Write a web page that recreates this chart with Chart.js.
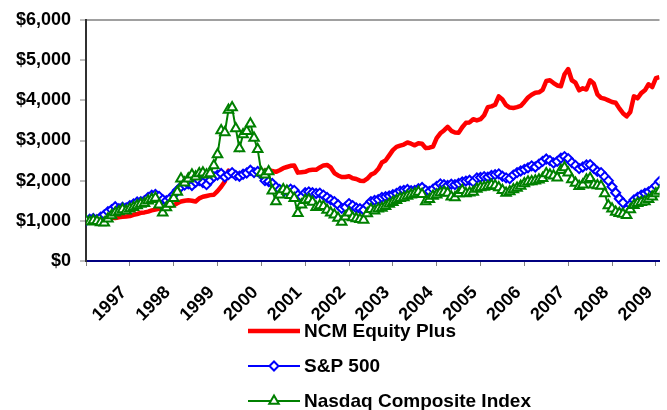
<!DOCTYPE html>
<html>
<head>
<meta charset="utf-8">
<title>NCM Equity Plus x S&amp;P 500 x Nasdaq</title>
<script src="https://cdn.jsdelivr.net/npm/chart.js@4.4.0/dist/chart.umd.min.js"></script>
<style>
    html, body { margin: 0; padding: 0; background: #fff; }
    #grafico { display: block; }
</style>
</head>
<body>
<canvas id="grafico" width="667" height="410"></canvas>
<script>
// === Dados (valor de $1.000 investidos, um ponto por mês) ===
const anos = ['1997', '1998', '1999', '2000', '2001', '2002', '2003',
              '2004', '2005', '2006', '2007', '2008', '2009'];

const ncmEquityPlus = [
    1000, 1010, 990, 1000, 1030, 1050, 1060, 1080, 1070, 1090,
    1100, 1110, 1120, 1150, 1170, 1200, 1210, 1230, 1260, 1280,
    1300, 1320, 1340, 1370, 1390, 1440, 1480, 1500, 1510, 1500,
    1480, 1560, 1600, 1620, 1640, 1650, 1740, 1850, 1980, 2250,
    2200, 2180, 2150, 2140, 2180, 2220, 2200, 2180, 2230, 2250,
    2270, 2240, 2220, 2260, 2310, 2340, 2370, 2380, 2200, 2210,
    2220, 2260, 2270, 2270, 2330, 2380, 2390, 2330, 2190, 2130,
    2090, 2090, 2110, 2060, 2040, 2000, 1990, 2050, 2150, 2190,
    2290, 2450, 2500, 2630, 2760, 2840, 2870, 2900, 2950, 2920,
    2880, 2930, 2920, 2810, 2820, 2850, 3060, 3180, 3250, 3340,
    3240, 3200, 3190, 3330, 3440, 3450, 3530, 3500, 3530, 3630,
    3830, 3850, 3890, 4100, 4020, 3880, 3820, 3810, 3830, 3860,
    3960, 4070, 4140, 4190, 4200, 4260, 4480, 4500, 4430, 4370,
    4350, 4650, 4780, 4500, 4440, 4250, 4300, 4270, 4500, 4420,
    4150, 4060, 4040, 4000, 3960, 3940, 3800, 3680, 3600, 3710,
    4100, 4050, 4180, 4250, 4400, 4330, 4550, 4580
];

const sp500 = [
    1000, 1040, 1060, 1030, 1090, 1150, 1230, 1280, 1350, 1300,
    1340, 1320, 1380, 1420, 1470, 1480, 1500, 1580, 1640, 1660,
    1610, 1530, 1500, 1560, 1650, 1760, 1850, 1890, 1920, 1880,
    1960, 2000, 1950, 1900, 2010, 2100, 2140, 2180, 2090, 2150,
    2200, 2130, 2110, 2160, 2190, 2260, 2200, 2230, 2150, 2000,
    1980, 1930, 1840, 1780, 1720, 1760, 1790, 1760, 1640, 1600,
    1700, 1720, 1700, 1680, 1690, 1640, 1580, 1520, 1480, 1400,
    1310, 1340, 1430, 1380, 1320, 1300, 1270, 1380, 1480, 1510,
    1530, 1580, 1600, 1620, 1650, 1680, 1740, 1760, 1780, 1750,
    1760, 1800, 1830, 1760, 1730, 1790, 1860, 1920, 1900, 1880,
    1910, 1900, 1930, 1970, 1990, 2010, 1970, 2070, 2080, 2100,
    2090, 2130, 2150, 2170, 2110, 2070, 2050, 2140, 2200, 2240,
    2280, 2320, 2370, 2340, 2410, 2480, 2540, 2500, 2440, 2480,
    2560, 2600, 2550, 2450, 2380, 2300, 2340, 2390, 2400, 2310,
    2230, 2200, 2100, 2000, 1850, 1700, 1550, 1450, 1290, 1400,
    1520, 1580, 1640, 1680, 1720, 1780, 1870, 1980
];

const nasdaq = [
    1000, 980, 1010, 990, 960, 950, 1050, 1130, 1200, 1230,
    1280, 1250, 1300, 1340, 1380, 1420, 1440, 1500, 1540, 1570,
    1400, 1200, 1330, 1420, 1560, 1720, 2050, 1950, 2050, 2150,
    2100, 2180, 2200, 2150, 2180, 2380, 2650, 3250, 3200, 3760,
    3820, 3300, 2800, 3150, 3230, 3420, 3060, 2780, 2200, 2150,
    2230, 1750, 1480, 1650, 1780, 1740, 1640, 1560, 1190, 1400,
    1510, 1530, 1470, 1340, 1380, 1360, 1270, 1200, 1150, 1070,
    970, 1100, 1200, 1080, 1060, 1040, 1020, 1180, 1290, 1250,
    1300, 1320, 1360, 1420, 1460, 1510, 1560, 1580, 1620, 1650,
    1680, 1720, 1660, 1480, 1540, 1620, 1650, 1700, 1720, 1690,
    1600, 1580, 1680, 1760, 1680, 1700, 1720, 1790, 1830, 1840,
    1860, 1890, 1880, 1830, 1760, 1690, 1730, 1780, 1820, 1870,
    1930, 1970, 1980, 2000, 2020, 2060, 2180, 2150, 2120, 2070,
    2260, 2330, 2200, 2030, 1940, 1860, 1900, 2020, 2060, 1900,
    1880, 1870, 1680, 1380, 1300, 1220, 1190, 1170, 1140, 1280,
    1390, 1440, 1460, 1480, 1540, 1600, 1680, 1740
];

// === Aparência ===
const fonte = "'Liberation Sans', Arial, sans-serif";
const totalMeses = ncmEquityPlus.length - 1;

// um tick no início e um a cada 12 meses
const posicoesAnos = [0].concat(anos.map((a, i) => (i + 1) * 12));

function montarPontos(valores) {
    return valores.map((v, i) => ({ x: i, y: v }));
}

function rotuloAno(valor) {
    const idx = Math.round(valor / 12) - 1;
    return idx >= 0 ? anos[idx] : '';
}

// Legenda empilhada (uma série por linha), igual ao original
const legendaVertical = {
    id: 'legendaVertical',
    afterDraw(chart, args, opts) {
        const ctx = chart.ctx;
        ctx.save();
        chart.data.datasets.forEach((ds, i) => {
            const y = opts.topo + i * opts.espaco;
            const x0 = opts.esquerda;
            const x1 = opts.esquerda + opts.comprimento;

            ctx.strokeStyle = ds.borderColor;
            ctx.lineWidth = ds.borderWidth;
            ctx.beginPath();
            ctx.moveTo(x0, y);
            ctx.lineTo(x1, y);
            ctx.stroke();

            if (ds.pointRadius > 0) {
                ctx.fillStyle = ds.pointBackgroundColor;
                ctx.strokeStyle = ds.pointBorderColor;
                ctx.lineWidth = ds.pointBorderWidth;
                Chart.helpers.drawPoint(ctx, {
                    pointStyle: ds.pointStyle,
                    radius: ds.pointRadius,
                    rotation: 0,
                    borderWidth: ds.pointBorderWidth
                }, (x0 + x1) / 2, y);
            }

            ctx.fillStyle = '#000';
            ctx.font = opts.fonte;
            ctx.textAlign = 'left';
            ctx.textBaseline = 'middle';
            ctx.fillText(ds.label, x1 + 4, y + 1);
        });
        ctx.restore();
    }
};

new Chart(document.getElementById('grafico'), {
    type: 'line',
    data: {
        datasets: [
            {
                label: 'NCM Equity Plus',
                data: montarPontos(ncmEquityPlus),
                borderColor: '#ff0000',
                borderWidth: 4.5,
                borderJoinStyle: 'round',
                pointRadius: 0,
                order: 3
            },
            {
                label: 'S&P 500',
                data: montarPontos(sp500),
                borderColor: '#0000ff',
                borderWidth: 2,
                pointStyle: 'rectRot',
                pointRadius: 4.5,
                pointBorderWidth: 2,
                pointBorderColor: '#0000ff',
                pointBackgroundColor: '#ffffff',
                order: 2
            },
            {
                label: 'Nasdaq Composite Index',
                data: montarPontos(nasdaq),
                borderColor: '#008000',
                borderWidth: 2,
                pointStyle: 'triangle',
                pointRadius: 5.5,
                pointBorderWidth: 2,
                pointBorderColor: '#008000',
                pointBackgroundColor: '#ffffff',
                order: 1
            }
        ]
    },
    options: {
        responsive: false,
        animation: false,
        devicePixelRatio: 1,
        layout: { padding: { top: 20, left: 0, right: 0, bottom: 0 } },
        plugins: {
            legend: { display: false },
            tooltip: { enabled: false },
            legendaVertical: {
                esquerda: 248,
                comprimento: 52,
                topo: 331,
                espaco: 35,
                fonte: "bold 19px " + fonte
            }
        },
        scales: {
            x: {
                type: 'linear',
                min: 0,
                max: totalMeses,
                afterBuildTicks: eixo => {
                    eixo.ticks = posicoesAnos.map(v => ({ value: v }));
                },
                afterFit: eixo => {
                    eixo.height = 149;
                    eixo.paddingLeft = 0;
                    eixo.paddingRight = 0;
                },
                border: { color: '#000080', width: 2 },
                grid: {
                    drawOnChartArea: false,
                    drawTicks: true,
                    tickLength: 5,
                    color: '#808080'
                },
                ticks: {
                    autoSkip: false,
                    minRotation: 45,
                    maxRotation: 45,
                    padding: 16,
                    labelOffset: -6,
                    color: '#000',
                    font: { family: fonte, size: 18, weight: 'bold' },
                    callback: v => rotuloAno(v)
                }
            },
            y: {
                min: 0,
                max: 6000,
                afterFit: eixo => {
                    eixo.width = 86;
                    eixo.paddingTop = 0;
                    eixo.paddingBottom = 0;
                },
                border: { color: '#303030', width: 2 },
                grid: {
                    color: ctx => (ctx.tick && ctx.tick.value === 6000) ? '#a0a0a0' : 'rgba(0,0,0,0)',
                    lineWidth: 2,
                    tickLength: 6,
                    tickColor: '#808080',
                    tickWidth: 1
                },
                ticks: {
                    stepSize: 1000,
                    padding: 9,
                    color: '#000',
                    font: { family: fonte, size: 18, weight: 'bold' },
                    callback: v => '$' + v.toLocaleString('en-US')
                }
            }
        }
    },
    plugins: [legendaVertical]
});
</script>
</body>
</html>
